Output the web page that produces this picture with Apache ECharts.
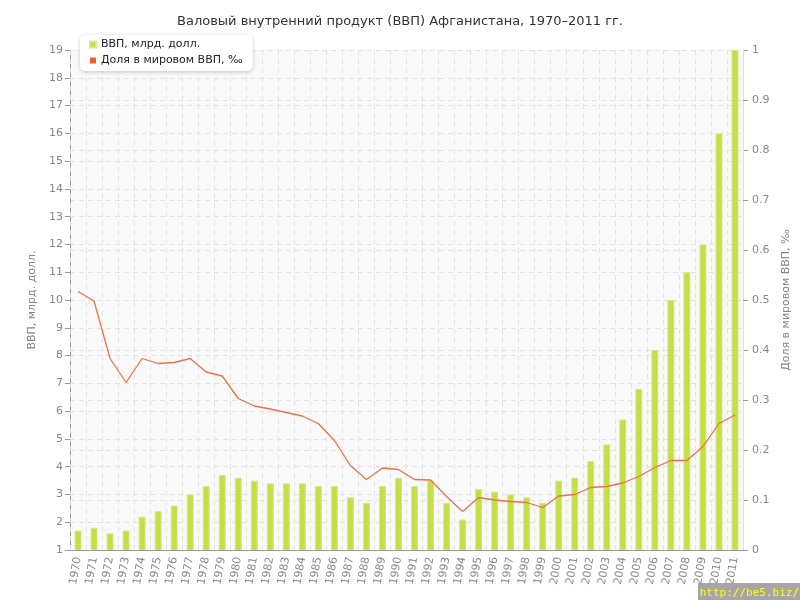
<!DOCTYPE html>
<html>
<head>
<meta charset="utf-8">
<title>ВВП Афганистана</title>
<script src="https://cdn.jsdelivr.net/npm/echarts@6/dist/echarts.min.js"></script>
<style>
  html, body { margin: 0; padding: 0; background: #fff; }
  #chart { width: 800px; height: 600px; }
</style>
</head>
<body>
<div id="chart"></div>
<script>
// годы
var years = ['1970', '1971', '1972', '1973', '1974', '1975', '1976', '1977', '1978', '1979',
  '1980', '1981', '1982', '1983', '1984', '1985', '1986', '1987', '1988', '1989',
  '1990', '1991', '1992', '1993', '1994', '1995', '1996', '1997', '1998', '1999',
  '2000', '2001', '2002', '2003', '2004', '2005', '2006', '2007', '2008', '2009',
  '2010', '2011']
// ВВП, млрд. долл.
var gdp = [1.7, 1.8, 1.6, 1.7, 2.2, 2.4, 2.6, 3.0, 3.3, 3.7,
  3.6, 3.5, 3.4, 3.4, 3.4, 3.3, 3.3, 2.9, 2.7, 3.3,
  3.6, 3.3, 3.5, 2.7, 2.1, 3.2, 3.1, 3.0, 2.9, 2.7,
  3.5, 3.6, 4.2, 4.8, 5.7, 6.8, 8.2, 10.0, 11.0, 12.0,
  16.0, 19.0]
// доля в мировом ВВП, промилле
var share = [0.517, 0.498, 0.383, 0.335, 0.383, 0.373, 0.375, 0.383, 0.356, 0.348,
  0.303, 0.288, 0.282, 0.275, 0.268, 0.253, 0.219, 0.169, 0.141, 0.164,
  0.161, 0.141, 0.140, 0.107, 0.077, 0.105, 0.100, 0.097, 0.095, 0.085,
  0.108, 0.111, 0.125, 0.127, 0.134, 0.147, 0.165, 0.179, 0.179, 0.207,
  0.253, 0.270]

var gridLine = { show: true, lineStyle: { color: '#e2e2e2', type: [5, 4], width: 1 } }
var labelFont = 'DejaVu Sans'

var myChart = echarts.init(document.getElementById('chart'))
myChart.setOption({
  animation: false,
  title: {
    text: 'Валовый внутренний продукт (ВВП) Афганистана, 1970–2011 гг.',
    left: 'center',
    top: 10,
    textStyle: { fontFamily: labelFont, fontSize: 13, fontWeight: 'normal', color: '#333' }
  },
  legend: {
    orient: 'vertical',
    left: 80,
    top: 35,
    icon: 'rect',
    itemWidth: 6,
    itemHeight: 6,
    itemGap: 5,
    padding: [4, 10, 5, 9],
    backgroundColor: '#fff',
    borderRadius: 5,
    shadowColor: 'rgba(0,0,0,0.2)',
    shadowBlur: 4,
    shadowOffsetY: 1,
    textStyle: { fontFamily: labelFont, fontSize: 11, color: '#222' },
    data: ['ВВП, млрд. долл.', 'Доля в мировом ВВП, ‰']
  },
  grid: {
    left: 70,
    right: 50,
    top: 50,
    bottom: 50,
    show: true,
    backgroundColor: '#f9f9f9',
    borderWidth: 0
  },
  xAxis: {
    type: 'category',
    data: years,
    z: 3,
    axisTick: { alignWithLabel: true, length: 5, lineStyle: { color: '#999' } },
    axisLine: { lineStyle: { color: '#999', width: 1 } },
    axisLabel: {
      rotate: 80,
      interval: 0,
      fontFamily: labelFont,
      fontSize: 11,
      color: '#888',
      margin: 7
    },
    splitLine: { show: true, lineStyle: { color: 'rgba(225,225,225,0.85)', type: [5, 4], width: 1 } }
  },
  yAxis: [
    {
      type: 'value',
      min: 1,
      max: 19,
      interval: 1,
      name: 'ВВП, млрд. долл.',
      nameLocation: 'middle',
      nameRotate: 90,
      nameGap: 27,
      nameTextStyle: { fontFamily: labelFont, fontSize: 11, color: '#888' },
      axisLine: { show: true, lineStyle: { color: '#999' } },
      axisTick: { show: true, length: 5, lineStyle: { color: '#999' } },
      axisLabel: { fontFamily: labelFont, fontSize: 11, color: '#888', margin: 7 },
      splitLine: gridLine
    },
    {
      type: 'value',
      min: 0,
      max: 1,
      interval: 0.1,
      position: 'right',
      name: 'Доля в мировом ВВП, ‰',
      nameLocation: 'middle',
      nameRotate: 90,
      nameGap: 38,
      nameTextStyle: { fontFamily: labelFont, fontSize: 11, color: '#888' },
      axisLine: { show: true, lineStyle: { color: '#ddd' } },
      axisTick: { show: true, length: 5, lineStyle: { color: '#999' } },
      axisLabel: { fontFamily: labelFont, fontSize: 11, color: '#888', margin: 9 },
      splitLine: gridLine
    }
  ],
  series: [
    {
      name: 'ВВП, млрд. долл.',
      type: 'bar',
      yAxisIndex: 0,
      data: gdp,
      barWidth: 7,
      z: 2,
      itemStyle: { color: '#c4df45', borderColor: '#d6ea8c', borderWidth: 1 }
    },
    {
      name: 'Доля в мировом ВВП, ‰',
      type: 'line',
      yAxisIndex: 1,
      data: share,
      symbol: 'none',
      lineStyle: { color: '#e8744a', width: 1.3 },
      itemStyle: { color: '#e8612c' },
      z: 4
    }
  ],
  graphic: [
    {
      type: 'rect',
      right: 0,
      bottom: 0,
      shape: { width: 102, height: 17 },
      style: { fill: '#a6a6a6' },
      z: 100
    },
    {
      type: 'text',
      right: 1,
      bottom: 1,
      style: { text: 'http://be5.biz/', fill: '#ffff00', font: '11px "DejaVu Sans Mono"' },
      z: 101
    }
  ]
})
</script>
</body>
</html>
